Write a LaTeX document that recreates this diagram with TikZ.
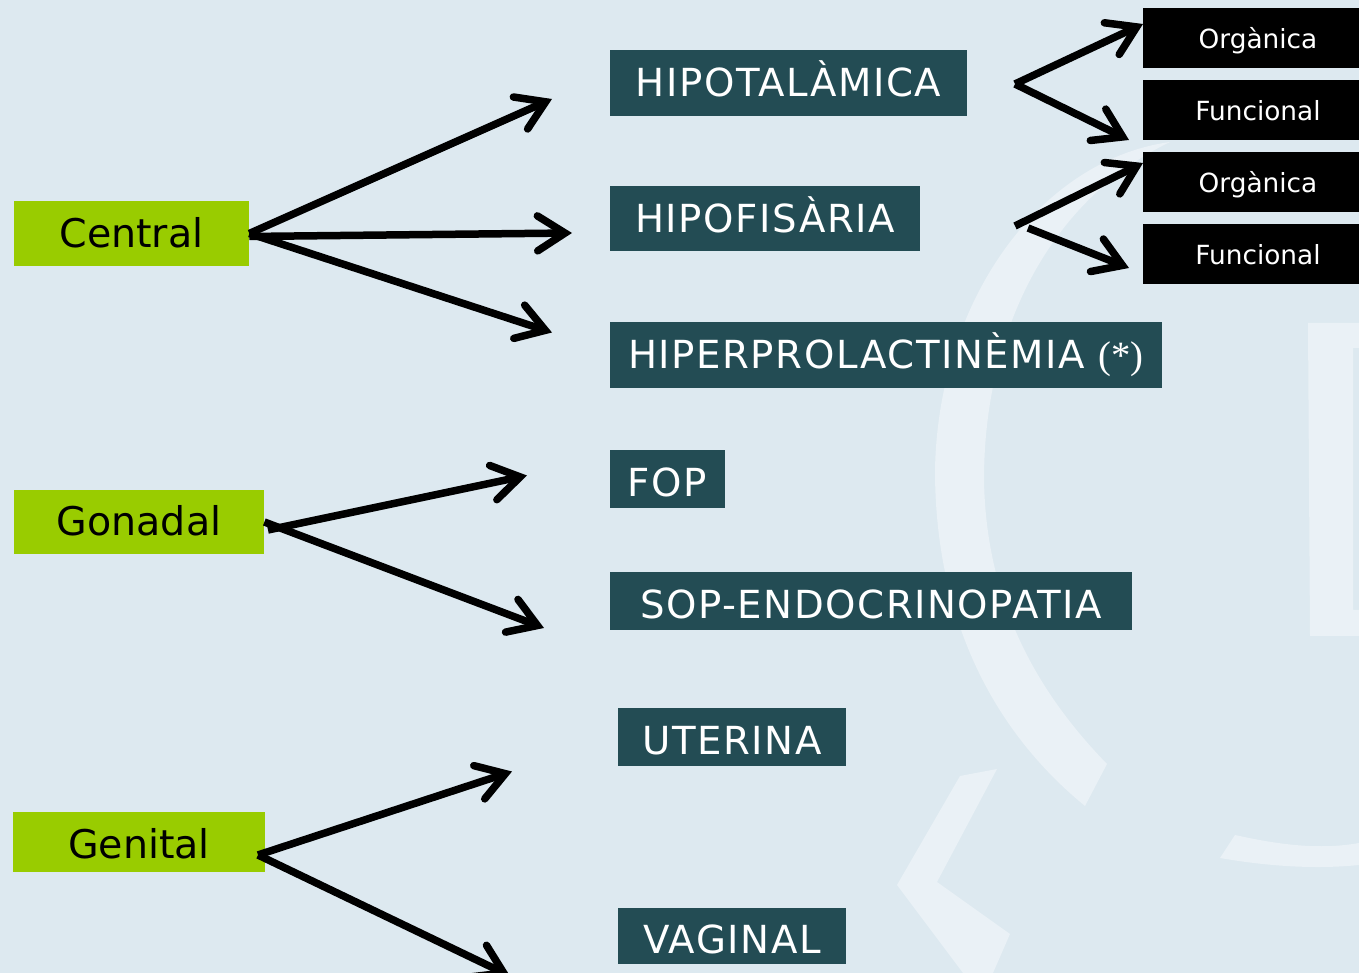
\documentclass[tikz,border=0pt]{standalone}
\usepackage{fontspec}
\setmainfont{DejaVu Sans}
\newfontfamily\starfont{Liberation Serif}
\newfontfamily\widefont[LetterSpace=4]{DejaVu Sans}
\usepackage{tikz}
\usetikzlibrary{arrows.meta}
\definecolor{bgcol}{RGB}{221,233,240}
\definecolor{markcol}{RGB}{234,241,246}
\definecolor{tealcol}{RGB}{35,76,84}
\definecolor{limecol}{RGB}{153,204,0}

\begin{document}
\begin{tikzpicture}[
    causebox/.style={fill=limecol, text=black, inner sep=0pt, text depth=0pt, font=\fontsize{22.5}{28}\selectfont},
    typebox/.style={fill=tealcol, text=white, inner sep=0pt, text depth=0pt, text height=0.72cm, font=\widefont\fontsize{22}{28}\selectfont},
    accentbox/.style={typebox, text height=0.56cm},
    subbox/.style={fill=black, text=white, inner sep=0pt, text depth=0pt, text height=0.43cm, minimum width=4.6cm, minimum height=1.2cm, font=\fontsize{15}{18}\selectfont},
    linkarrow/.style={-{Straight Barb[length=0.55cm, width=0.7cm, line width=0.15cm, line cap=round, line join=miter]}, line width=0.15cm, black}
]
\useasboundingbox (0,0) rectangle (27.18,19.46);
\fill[bgcol] (0,0) rectangle (27.18,19.46);

% Watermark
\fill[markcol] (23.4,16.62) .. controls (20.8,16.26) and (18.76,13.46) .. (18.7,10.06) .. controls (18.7,7.46) and (19.6,5.06) .. (21.7,3.34) -- (22.14,4.18) .. controls (20.7,5.66) and (19.72,7.46) .. (19.68,9.86) .. controls (19.68,12.86) and (21,15.46) .. (23.4,16.62) -- cycle;
\fill[markcol] (19.94,4.08) -- (19.2,3.94) -- (17.94,1.76) -- (19.26,0) -- (19.86,0) -- (20.2,0.78) -- (18.74,1.82) -- cycle;
\fill[markcol] (27.18,13.0) -- (26.16,13.0) -- (26.2,6.74) -- (27.18,6.74) -- (27.18,7.26) -- (27.06,7.26) -- (27.06,12.5) -- (27.18,12.5) -- cycle;
\fill[markcol] (24.4,2.3) -- (24.7,2.76) .. controls (25.6,2.56) and (26.4,2.46) .. (27.18,2.6) -- (27.18,2.16) .. controls (26.2,2.06) and (25.2,2.16) .. (24.4,2.3) -- cycle;

% Causes
\node[causebox, text height=0.58cm, minimum width=4.7cm, minimum height=1.3cm] (central) at (2.63,14.79) {Central};
\node[causebox, text height=0.56cm, minimum width=5cm, minimum height=1.28cm] (gonadal) at (2.78,9.02) {Gonadal};
\node[causebox, text height=0.68cm, minimum width=5.04cm, minimum height=1.2cm] (genital) at (2.78,2.62) {Genital};

% Types
\node[accentbox, minimum width=7.14cm, minimum height=1.32cm] (hipotalamica) at (15.77,17.8) {HIPOTALÀMICA};
\node[accentbox, minimum width=6.2cm, minimum height=1.3cm] (hipofisaria) at (15.3,15.09) {HIPOFISÀRIA};
\node[accentbox, minimum width=11.04cm, minimum height=1.32cm] (hiperprolactinemia) at (17.72,12.36) {HIPERPROLACTINÈMIA {\starfont (*)}};
\node[typebox, minimum width=2.3cm, minimum height=1.16cm] (fop) at (13.35,9.88) {FOP};
\node[typebox, minimum width=10.44cm, minimum height=1.16cm] (sop) at (17.42,7.44) {SOP-ENDOCRINOPATIA};
\node[typebox, minimum width=4.56cm, minimum height=1.16cm] (uterina) at (14.64,4.72) {UTERINA};
\node[typebox, minimum width=4.56cm, minimum height=1.12cm] (vaginal) at (14.64,0.74) {VAGINAL};

% Subtypes
\node[subbox] (organica1) at (25.16,18.7) {Orgànica};
\node[subbox] (funcional1) at (25.16,17.26) {Funcional};
\node[subbox] (organica2) at (25.16,15.82) {Orgànica};
\node[subbox] (funcional2) at (25.16,14.38) {Funcional};

% Free ends
\coordinate (centralA) at (11.04,17.48);
\coordinate (centralB) at (11.44,14.8);
\coordinate (centralC) at (11.04,12.81);
\coordinate (gonadalStart) at (5.36,8.86);
\coordinate (gonadalA) at (10.54,9.95);
\coordinate (gonadalB) at (10.88,6.9);
\coordinate (genitalStart) at (5.16,2.36);
\coordinate (genitalA) at (10.24,4.03);
\coordinate (genitalB) at (10.2,-0.06);
\coordinate (forkA) at (20.3,17.78);
\coordinate (forkB) at (20.3,14.94);
\coordinate (forkC) at (20.56,14.9);
\coordinate (organicaA) at (22.86,18.98);
\coordinate (funcionalA) at (22.58,16.66);
\coordinate (organicaB) at (22.86,16.2);
\coordinate (funcionalB) at (22.58,14.1);

\draw[linkarrow] (central.east)--(centralA);
\draw[linkarrow] ([yshift=-0.06cm]central.east)--(centralB);
\draw[linkarrow] (central.east)--(centralC);
\draw[linkarrow] (gonadalStart)--(gonadalA);
\draw[linkarrow] (gonadal.east)--(gonadalB);
\draw[linkarrow] (genitalStart)--(genitalA);
\draw[linkarrow] (genitalStart)--(genitalB);
\draw[linkarrow] (forkA)--(organicaA);
\draw[linkarrow] (forkA)--(funcionalA);
\draw[linkarrow] (forkB)--(organicaB);
\draw[linkarrow] (forkC)--(funcionalB);
\end{tikzpicture}
\end{document}
